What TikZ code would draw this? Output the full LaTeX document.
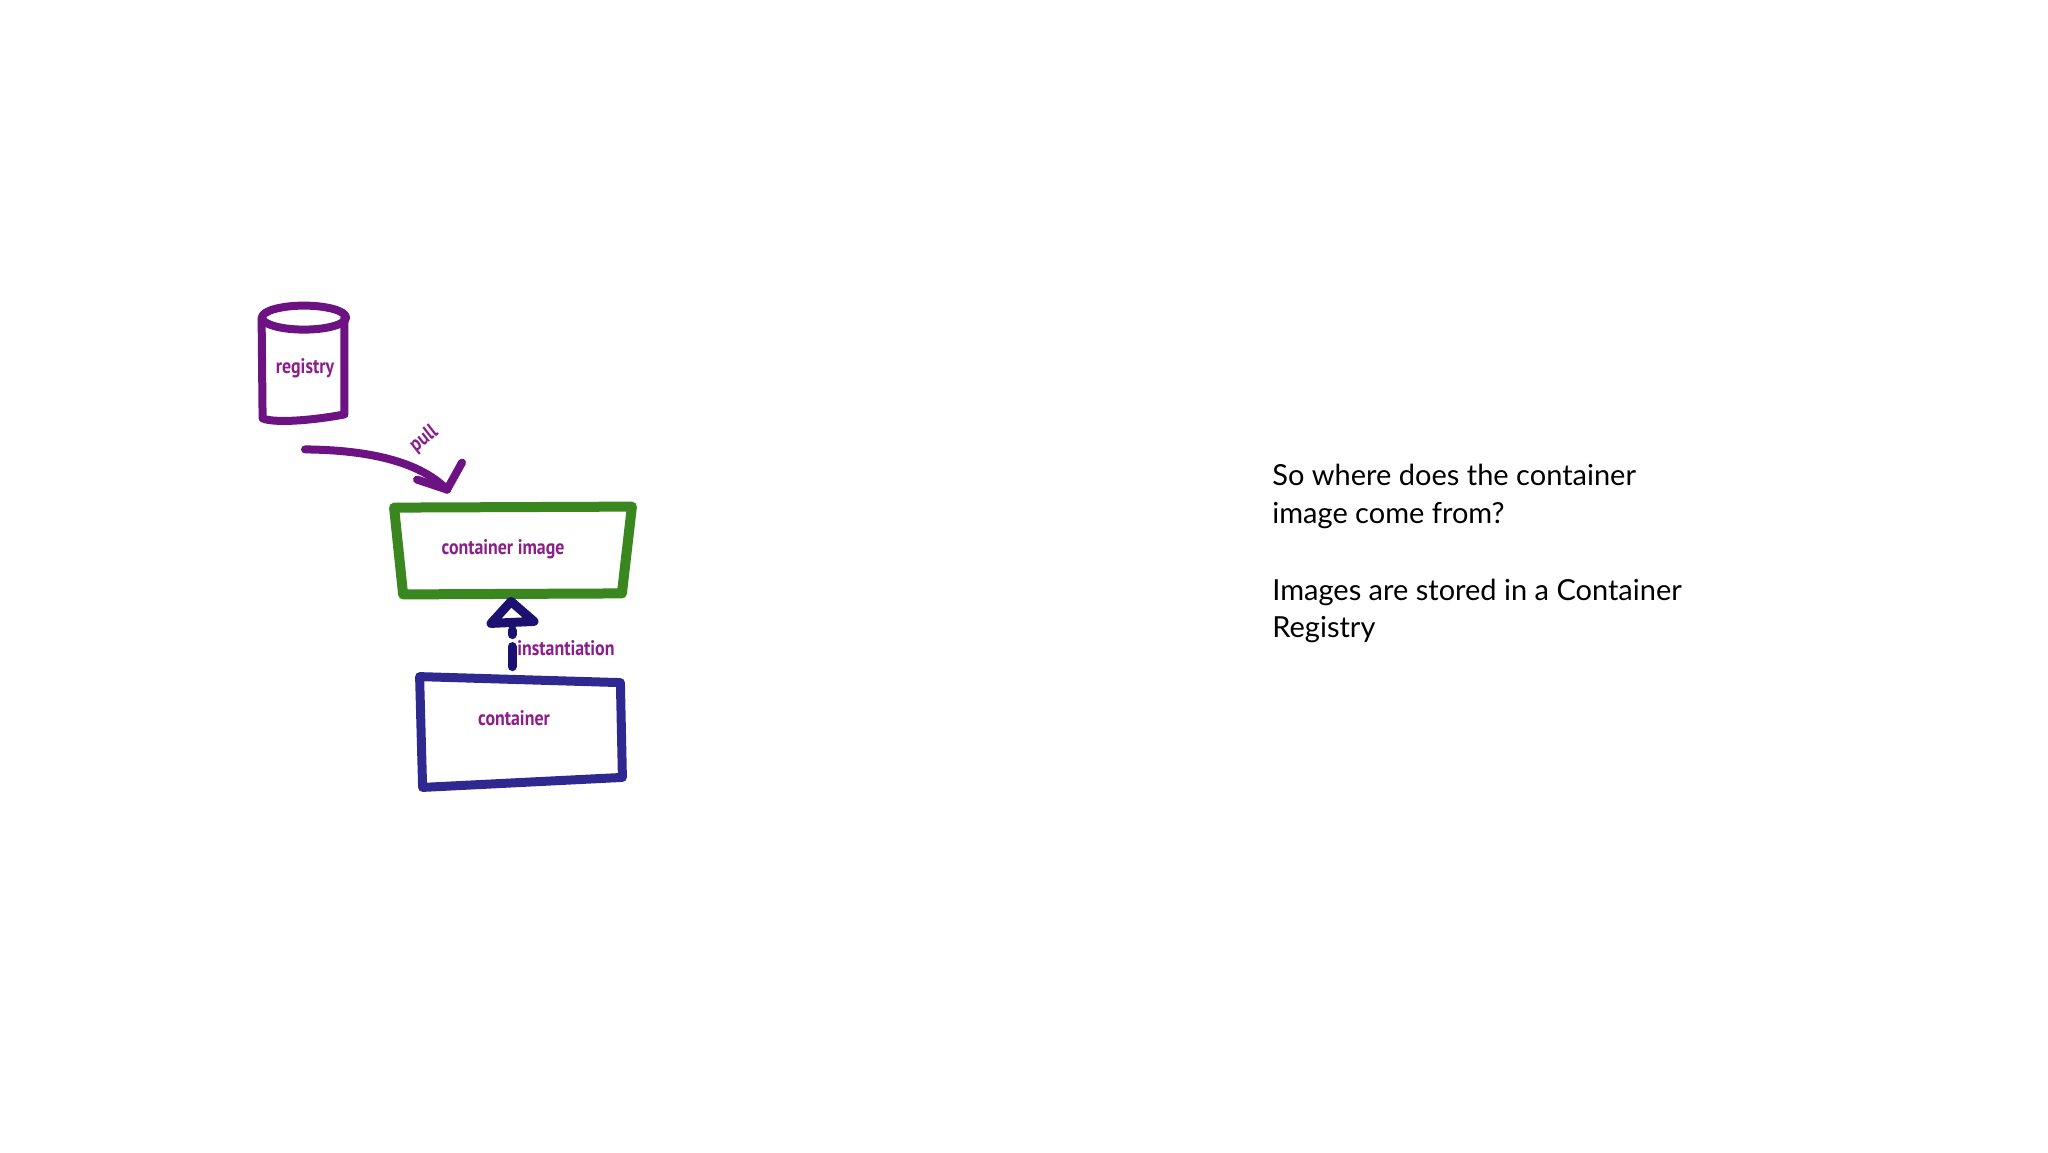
\documentclass[tikz,border=0pt]{standalone}
\usepackage{fontspec}
\setmainfont{Lato}
\newfontfamily\lblfont[FakeStretch=0.85]{PT Sans}
\usetikzlibrary{calc}
\definecolor{regpurple}{RGB}{108,18,130}
\definecolor{lblpurple}{RGB}{140,30,140}
\definecolor{imggreen}{RGB}{58,135,32}
\definecolor{ctrblue}{RGB}{48,40,145}
\definecolor{instnavy}{RGB}{28,16,112}
\tikzset{
  shapebox/.style={draw=none, inner sep=0pt},
  sketch/.style={line width=4pt, line cap=round, line join=round},
  lbl/.style={font=\lblfont\bfseries\fontsize{10.5}{12}\selectfont, text=lblpurple, inner sep=0pt},
  para/.style={font=\fontsize{14.5}{16}\selectfont, text=black, inner sep=0pt, anchor=base west}
}
\begin{document}
\begin{tikzpicture}[x=0.5pt,y=-0.5pt]
\fill[white] (0,0) rectangle (2048,1152);
\useasboundingbox (0,0) rectangle (2048,1152);

% registry cylinder
\node[shapebox, minimum width=42pt, minimum height=57pt] (registry) at (304,363) {};
\draw[sketch, regpurple] ($(registry.north west)+(0,12)$) -- ($(registry.south west)+(1,-2)$)
  .. controls +(15,6) and +(-20,4) .. ($(registry.south east)+(-2,-6)$)
  -- ($(registry.north east)+(-2,12)$);
\draw[sketch, regpurple] ($(registry.north)+(0,12)$) ellipse [x radius=21pt, y radius=6pt];
\node[lbl] (regtext) at (305,368) {registry};

% container image box
\node[shapebox, minimum width=111.5pt, minimum height=42pt] (image) at (513,551) {};
\draw[line width=5pt, line cap=round, line join=round, imggreen]
  ($(image.north west)+(-7,-1)$) -- ($(image.north east)+(7,-2)$)
  -- ($(image.south east)+(-3,0)$) -- ($(image.south west)+(2,1)$) -- cycle;
\node[lbl] (imgtext) at (503,549) {container image};

% container box
\node[shapebox, minimum width=100pt, minimum height=53pt] (container) at (520,730) {};
\draw[line width=4.5pt, line cap=round, line join=round, ctrblue]
  ($(container.north west)+(0,0)$) -- ($(container.north east)+(0,6)$)
  -- ($(container.south east)+(2,-6)$) -- ($(container.south west)+(3,4)$) -- cycle;
\node[lbl] (ctrtext) at (514,718) {container};

% pull arrow
\coordinate (pulltip) at ($(image.north)+(-66,-19)$);
\draw[sketch, regpurple] ($(registry.south)+(1,29)$) .. controls (370,450) and (420,462) .. (pulltip);
\draw[sketch, regpurple] (pulltip) -- +(-30,-10);
\draw[sketch, regpurple] (pulltip) -- +(15,-27);
\node[lbl, rotate=38] (pulltext) at (424,439) {pull};

% instantiation arrow
\coordinate (insttip) at ($(image.south)+(-2,8)$);
\draw[line width=4.5pt, line cap=round, line join=round, instnavy]
  (insttip) -- ++(-20,22) -- ++(43,-2) -- cycle;
\draw[line width=4.5pt, line cap=round, instnavy, dash pattern=on 10pt off 6pt]
  ($(container.north)+(-8,-10)$) -- ($(image.south)+(-1,37)$);
\node[lbl, anchor=west] (insttext) at (517,648) {instantiation};

% explanatory text
\node[para] (l1) at (1272,485) {So where does the container};
\node[para] (l2) at (1272,523) {image come from?};
\node[para] (l3) at (1272,600) {Images are stored in a Container};
\node[para] (l4) at (1272,637) {Registry};
\end{tikzpicture}
\end{document}
